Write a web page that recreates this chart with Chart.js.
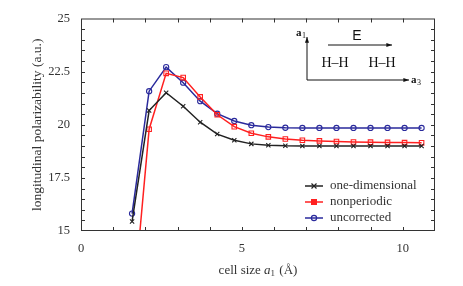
<!DOCTYPE html>
<html>
<head>
<meta charset="utf-8">
<script src="https://cdn.jsdelivr.net/npm/chart.js@4/dist/chart.umd.min.js"></script>
<style>
  body { margin: 0; background: #fff; }
</style>
</head>
<body>
<canvas id="c" width="463" height="286"></canvas>
<script>
// cell sizes: 3..20 bohr expressed in Angstrom
const cellSize = [1.587, 2.117, 2.646, 3.175, 3.704, 4.233, 4.763, 5.292, 5.821,
  6.350, 6.879, 7.408, 7.938, 8.467, 8.996, 9.525, 10.054, 10.583];
const oneDimensional = [15.45, 20.67, 21.51, 20.87, 20.12, 19.56, 19.27, 19.10, 19.04,
  19.01, 19.00, 19.00, 19.00, 19.00, 19.00, 19.00, 19.00, 19.00];
const nonperiodic = [10.9, 19.79, 22.42, 22.22, 21.31, 20.47, 19.91, 19.60, 19.43,
  19.33, 19.27, 19.24, 19.21, 19.19, 19.18, 19.17, 19.16, 19.15];
const uncorrected = [15.82, 21.58, 22.71, 21.98, 21.11, 20.52, 20.18, 19.98, 19.89,
  19.86, 19.85, 19.85, 19.85, 19.85, 19.85, 19.85, 19.85, 19.85];
const seriesNames = ['one-dimensional', 'nonperiodic', 'uncorrected'];

const serif = "'Liberation Serif', 'DejaVu Serif', serif";
const ink = '#333';

function pts(ys) {
  return ys.map((y, i) => ({ x: cellSize[i], y: y }));
}

const styles = [
  { color: '#222222', point: 'crossRot', r: 3 },
  { color: '#ff2020', point: 'rect', r: 3.2 },
  { color: '#2a2a9c', point: 'circle', r: 2.6 }
];

const datasets = [oneDimensional, nonperiodic, uncorrected].map((ys, i) => ({
  label: seriesNames[i],
  data: pts(ys),
  borderColor: styles[i].color,
  backgroundColor: 'rgba(255,255,255,0)',
  borderWidth: 1.5,
  pointStyle: styles[i].point,
  pointRadius: styles[i].r,
  pointBorderWidth: 1.1,
  pointBorderColor: styles[i].color,
  pointBackgroundColor: 'rgba(255,255,255,0)',
  tension: 0
}));

function arrow(ctx, x1, y1, x2, y2) {
  ctx.beginPath();
  ctx.moveTo(x1, y1);
  ctx.lineTo(x2, y2);
  ctx.stroke();
  const a = Math.atan2(y2 - y1, x2 - x1);
  ctx.beginPath();
  ctx.moveTo(x2, y2);
  ctx.lineTo(x2 - 6 * Math.cos(a - 0.35), y2 - 6 * Math.sin(a - 0.35));
  ctx.lineTo(x2 - 6 * Math.cos(a + 0.35), y2 - 6 * Math.sin(a + 0.35));
  ctx.closePath();
  ctx.fill();
}

const framePlugin = {
  id: 'frame',
  afterDraw(chart) {
    const ctx = chart.ctx;
    const a = chart.chartArea;
    const xs = chart.scales.x, ys = chart.scales.y;
    ctx.save();
    ctx.strokeStyle = ink;
    ctx.lineWidth = 1;
    ctx.strokeRect(a.left + 0.5, a.top + 0.5, a.right - a.left - 1, a.bottom - a.top - 1);
    // inward ticks
    ctx.beginPath();
    for (let v = 1; v < 11; v++) {
      const px = Math.round(xs.getPixelForValue(v)) + 0.5;
      ctx.moveTo(px, a.bottom); ctx.lineTo(px, a.bottom - 4);
      ctx.moveTo(px, a.top); ctx.lineTo(px, a.top + 4);
    }
    for (let v = 15.5; v < 25; v += 0.5) {
      const py = Math.round(ys.getPixelForValue(v)) + 0.5;
      ctx.moveTo(a.left, py); ctx.lineTo(a.left + 4, py);
      ctx.moveTo(a.right, py); ctx.lineTo(a.right - 4, py);
    }
    ctx.stroke();

    // x axis title with italic a and subscript 1
    ctx.fillStyle = ink;
    ctx.textBaseline = 'alphabetic';
    ctx.textAlign = 'left';
    const p1 = 'cell size ', p3 = ' (\u00c5)';
    ctx.font = '13px ' + serif;
    const w1 = ctx.measureText(p1).width, w3 = ctx.measureText(p3).width;
    ctx.font = 'italic 13px ' + serif;
    const w2 = ctx.measureText('a').width;
    ctx.font = '9px ' + serif;
    const ws = ctx.measureText('1').width + 1;
    let tx = (a.left + a.right) / 2 - (w1 + w2 + ws + w3) / 2;
    const ty = 274;
    ctx.font = '13px ' + serif;
    ctx.fillText(p1, tx, ty); tx += w1;
    ctx.font = 'italic 13px ' + serif;
    ctx.fillText('a', tx, ty); tx += w2;
    ctx.font = '9px ' + serif;
    ctx.fillText('1', tx, ty + 2); tx += ws;
    ctx.font = '13px ' + serif;
    ctx.fillText(p3, tx, ty);

    // legend
    ctx.font = '13px ' + serif;
    ctx.textBaseline = 'middle';
    const ly = [186, 202, 218];
    chart.data.datasets.forEach((ds, i) => {
      const y = ly[i];
      ctx.strokeStyle = ds.borderColor;
      ctx.lineWidth = 1.5;
      ctx.beginPath();
      ctx.moveTo(305, y); ctx.lineTo(323, y);
      ctx.stroke();
      ctx.fillStyle = ds.borderColor;
      ctx.lineWidth = 1.2;
      if (i === 0) {
        ctx.beginPath();
        ctx.moveTo(311.5, y - 2.5); ctx.lineTo(316.5, y + 2.5);
        ctx.moveTo(311.5, y + 2.5); ctx.lineTo(316.5, y - 2.5);
        ctx.stroke();
      } else if (i === 1) {
        ctx.fillRect(311, y - 3, 6, 6);
      } else {
        ctx.beginPath();
        ctx.arc(314, y, 2.6, 0, Math.PI * 2);
        ctx.stroke();
      }
      ctx.fillStyle = ink;
      ctx.textAlign = 'left';
      ctx.fillText(ds.label, 330, y);
    });

    // inset sketch
    ctx.strokeStyle = '#111';
    ctx.fillStyle = '#111';
    ctx.lineWidth = 1;
    arrow(ctx, 307, 80, 307, 37);
    arrow(ctx, 307, 80, 409, 80);
    arrow(ctx, 328, 45, 392, 45);
    ctx.textBaseline = 'alphabetic';
    ctx.font = 'bold 11px ' + serif;
    ctx.textAlign = 'left';
    ctx.fillText('a', 296, 36);
    ctx.fillText('a', 411, 83);
    ctx.font = '8px ' + serif;
    ctx.fillText('1', 302, 38);
    ctx.fillText('3', 417, 85);
    ctx.font = '14px ' + "'Liberation Sans', 'DejaVu Sans', sans-serif";
    ctx.textAlign = 'center';
    ctx.fillText('E', 357, 40);
    ctx.font = '14px ' + serif;
    ctx.fillText('H\u2013H', 335, 67);
    ctx.fillText('H\u2013H', 382, 67);
    ctx.restore();
  }
};

new Chart(document.getElementById('c'), {
  type: 'line',
  data: { datasets: datasets },
  options: {
    responsive: false,
    animation: false,
    layout: { padding: { top: 12, right: 28, bottom: 0, left: 0 } },
    plugins: { legend: { display: false }, tooltip: { enabled: false } },
    scales: {
      x: {
        type: 'linear',
        min: 0, max: 11,
        grid: { display: false, drawTicks: false },
        border: { display: false },
        ticks: {
          stepSize: 5, padding: 10, color: ink,
          font: { family: serif, size: 12.5 },
          callback: v => (v % 5 === 0 ? String(v) : '')
        },
        afterFit(s) { s.height = 55; }
      },
      y: {
        min: 15, max: 25,
        grid: { display: false, drawTicks: false },
        border: { display: false },
        ticks: {
          stepSize: 2.5, padding: 11, color: ink,
          font: { family: serif, size: 12.5 }
        },
        title: {
          display: true, text: 'longitudinal polarizability (a.u.)', color: ink,
          font: { family: serif, size: 13.5 }, padding: { top: 29, bottom: 0 }
        },
        afterFit(s) { s.width = 81; }
      }
    }
  },
  plugins: [framePlugin]
});
</script>
</body>
</html>
